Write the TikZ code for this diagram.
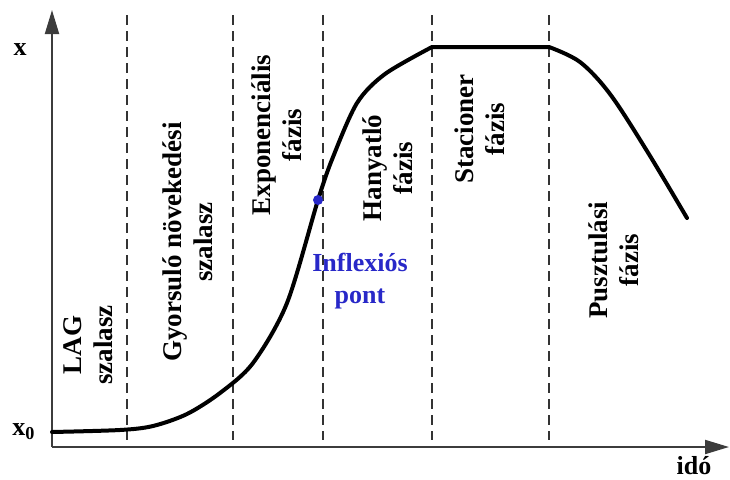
\documentclass[tikz,border=0pt]{standalone}
\usepackage{fontspec}
\setmainfont{Liberation Serif}
\usetikzlibrary{arrows.meta}
\definecolor{axisgray}{RGB}{60,60,60}
\definecolor{inflblue}{RGB}{40,40,200}
\tikzset{
  axis/.style={line width=1pt, axisgray, -{Triangle[length=12pt, width=7pt]}},
  phaseline/.style={line width=0.75pt, black!80, dash pattern=on 5pt off 3pt},
  growth/.style={line width=2pt, line join=round, line cap=round},
  phase/.style={rotate=90, align=center, font=\bfseries\fontsize{13.5}{15.5}\selectfont},
  axislabel/.style={font=\bfseries\fontsize{13}{15}\selectfont},
  dot/.style={circle, fill=inflblue, inner sep=0pt, minimum size=5pt}
}
\begin{document}
\begin{tikzpicture}[x=0.5pt, y=-0.5pt]
    \useasboundingbox (0,0) rectangle (730,479);
    % axes
    \coordinate (o) at (52,447);
    \coordinate (ytip) at (52,10);
    \coordinate (xtip) at (729,447);
    \draw[axis] (o) -- (ytip);
    \draw[axis] (o) -- (xtip);
    \node[axislabel] (xlab) at (20,50) {x};
    \node[axislabel] (x0lab) at (24,432) {x$_{\mathbf{0}}$};
    \node[axislabel, anchor=base] (tlab) at (694,474) {idó};

    % phase borders
    \foreach \px in {127,233,323,432,549}
        \draw[phaseline] (\px,15) -- (\px,440);

    % growth curve
    \draw[growth] plot[smooth, tension=0.5] coordinates {(52,432) (120,430) (153,426) (187,414) (220,393) (253,363) (287,303) (318,200) (333,157) (357,103) (385,74) (432,47)}
        -- (549,47)
        plot[smooth, tension=0.55] coordinates {(549,47) (580,62) (610,94) (647,151) (687,218)};

    \node[dot] (infl) at (318,200) {};
    \node[align=center, text=inflblue, font=\bfseries\fontsize{13}{16}\selectfont] (infltext) at (360,281) {Inflexiós\\pont};

    % phase names
    \node[phase] (lag) at (88,345) {LAG\\szalasz};
    \node[phase] (acc) at (188,242) {Gyorsuló növekedési\\szalasz};
    \node[phase] (expo) at (277,135) {Exponenciális\\fázis};
    \node[phase] (decl) at (388,168) {Hanyatló\\fázis};
    \node[phase] (stat) at (480,129) {Stacioner\\fázis};
    \node[phase] (death) at (614,260) {Pusztulási\\fázis};
\end{tikzpicture}
\end{document}
